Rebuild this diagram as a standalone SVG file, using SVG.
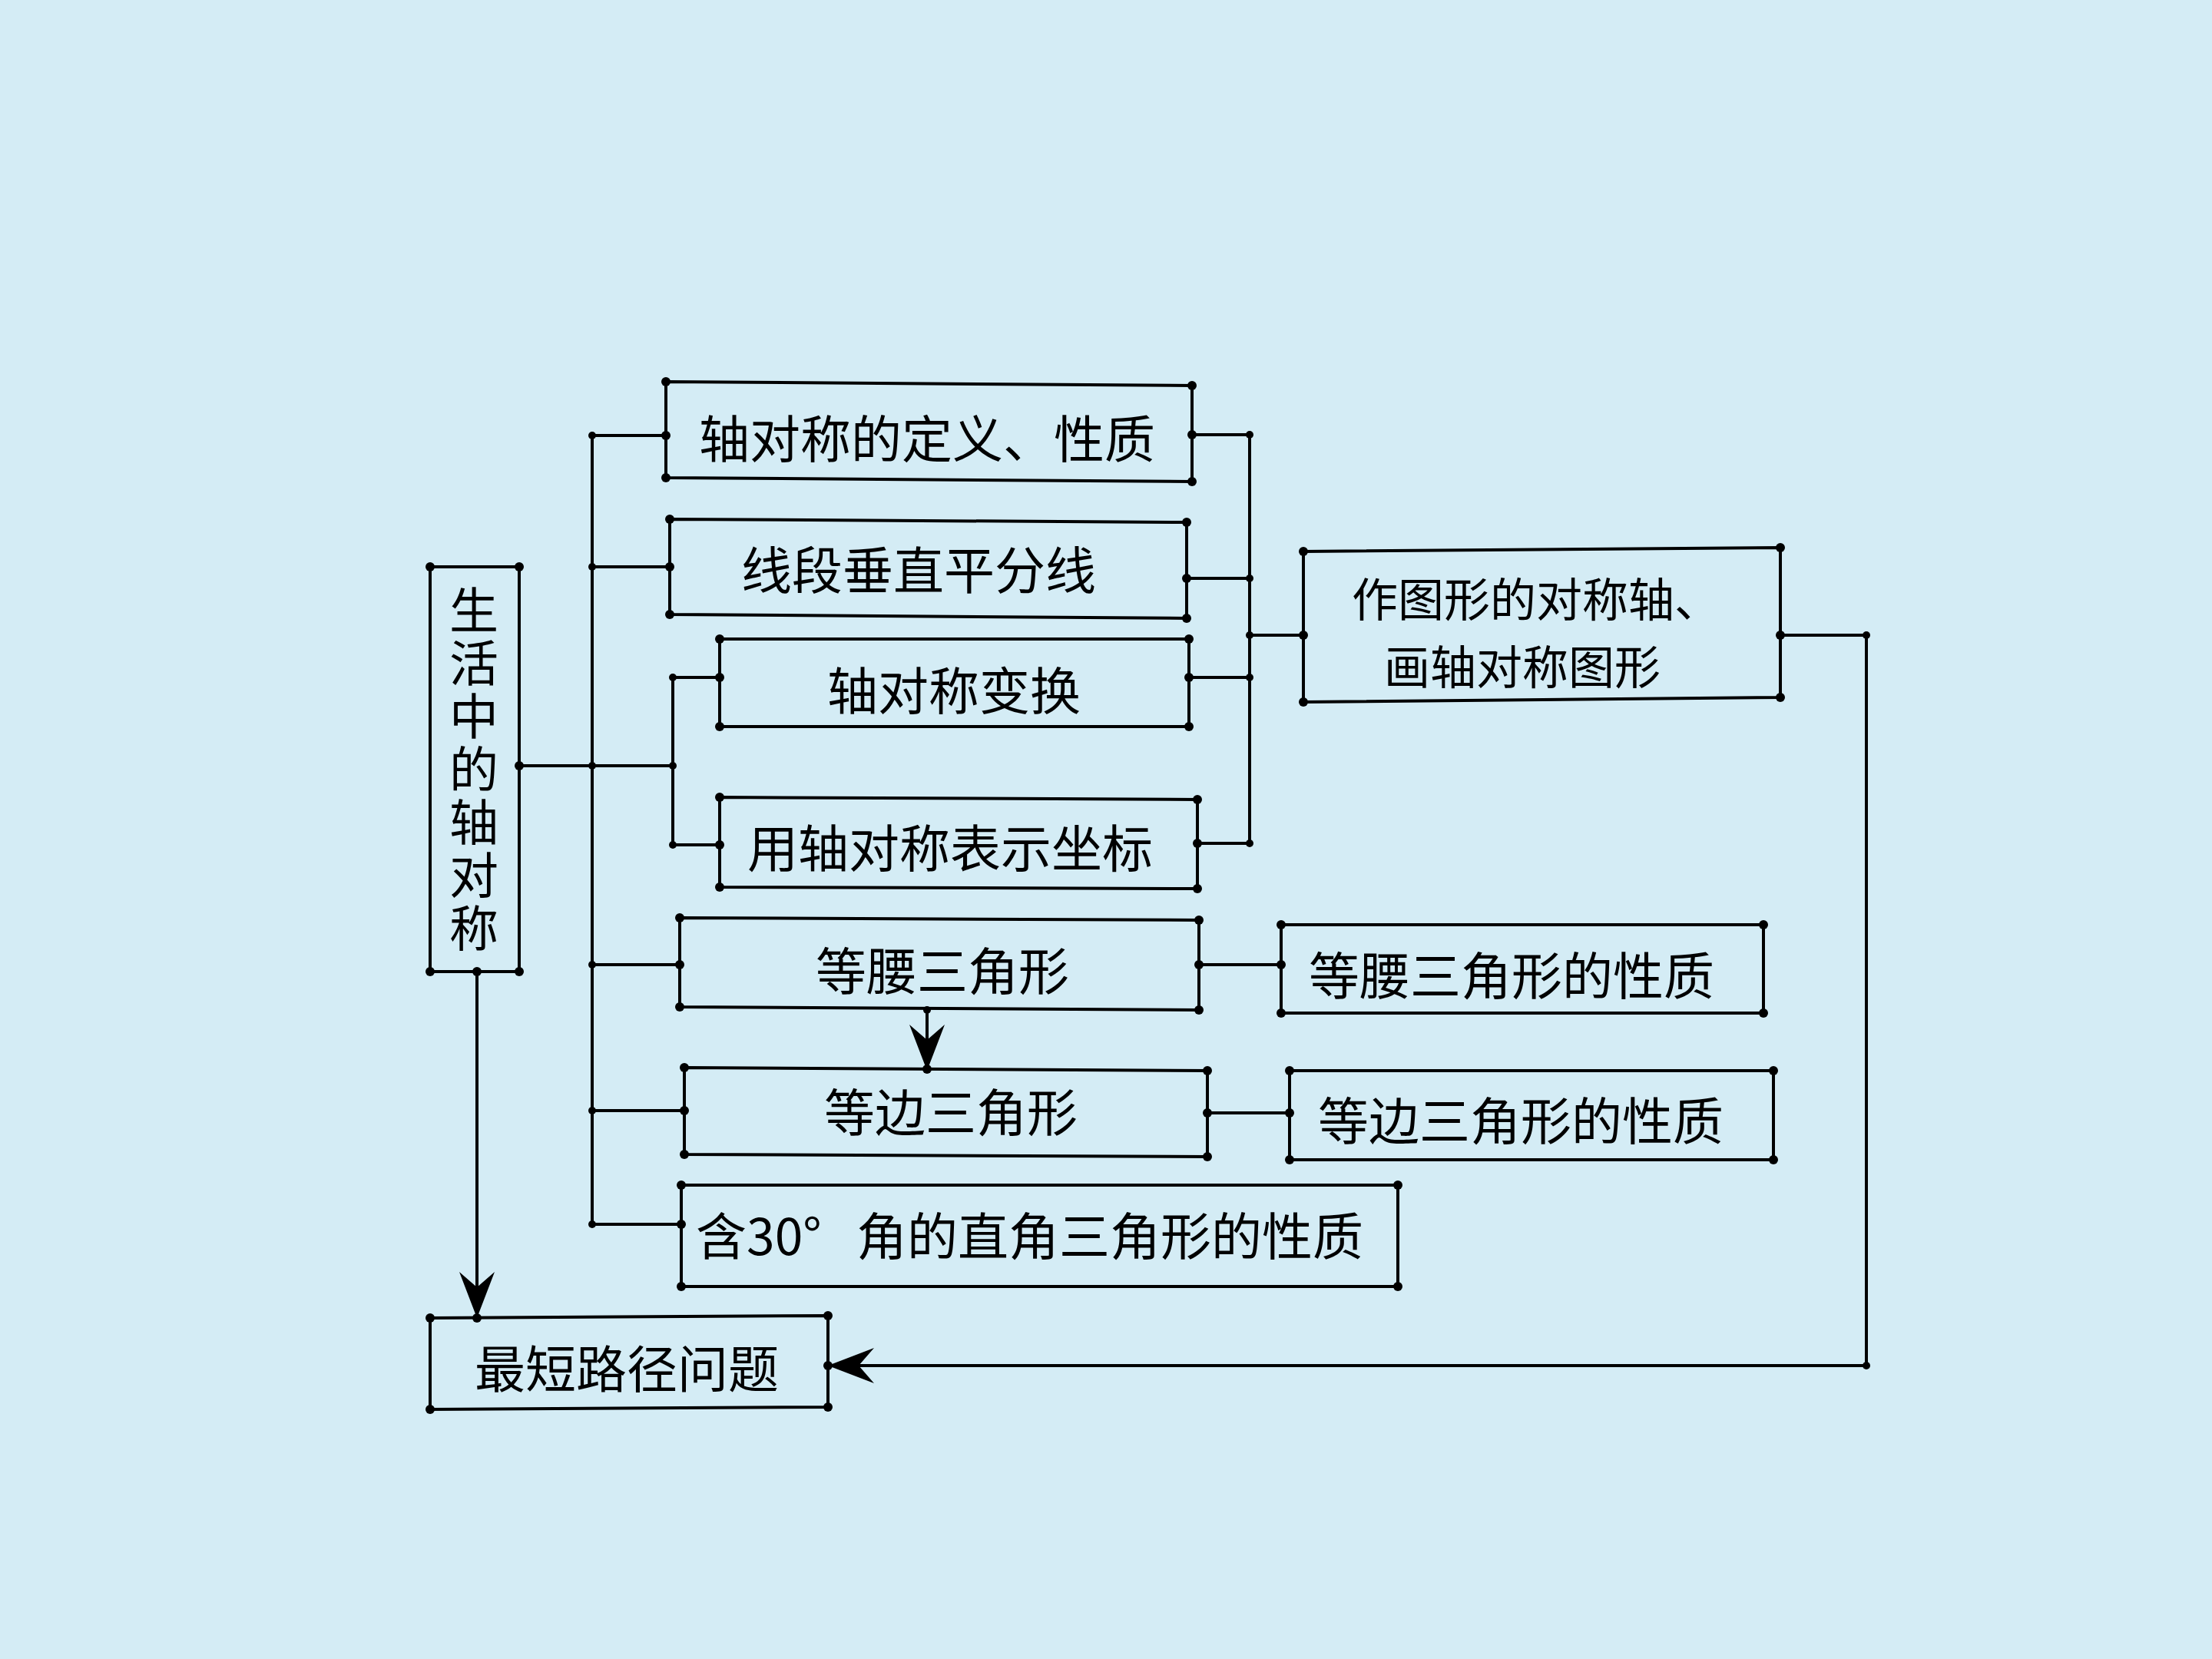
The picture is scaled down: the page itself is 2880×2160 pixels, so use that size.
<svg xmlns="http://www.w3.org/2000/svg" width="2880" height="2160" viewBox="0 0 2880 2160">
<style>
.box{fill:none;stroke:#000;stroke-width:4;stroke-linejoin:miter}
.ln{fill:none;stroke:#000;stroke-width:4}
.dot{fill:#000}
.t{font-family:"Noto Sans CJK SC","Liberation Serif",serif;font-size:66px;fill:#000;text-anchor:middle;dominant-baseline:central}
.t2{font-family:"Noto Sans CJK SC","Liberation Serif",serif;font-size:60px;fill:#000;text-anchor:middle;dominant-baseline:central}
.ts{font-family:"Noto Sans CJK SC","Liberation Serif",serif;font-size:66px;fill:#000;dominant-baseline:central}
.tv{font-family:"Noto Sans CJK SC","Liberation Serif",serif;font-size:64px;fill:#000;writing-mode:vertical-rl;letter-spacing:5px}
</style>
<defs>
<marker id="arr" viewBox="0 0 60 46" refX="60" refY="23" markerWidth="60" markerHeight="46" markerUnits="userSpaceOnUse" orient="auto">
<path d="M0,0 L60,23 L0,46 L20,23 Z" fill="#000"/>
</marker>
</defs>
<rect width="2880" height="2160" fill="#d4ecf5"/>

<g id="connectors">
<path class="ln" d="M771,567 V1594"/>
<path class="ln" d="M676,997 H876"/>
<path class="ln" d="M876,882 V1100"/>
<path class="ln" d="M876,882 H937 M876,1100 H937"/>
<path class="ln" d="M771,567 H867 M771,738 H872 M771,1256 H885 M771,1446 H891 M771,1594 H887"/>
<path class="ln" d="M1552,566 H1627 M1545,753 H1627 M1548,882 H1627 M1559,1098 H1627 M1627,566 V1098 M1627,827 H1697"/>
<path class="ln" d="M1561,1256 H1668 M1572,1449 H1679"/>
<path class="ln" d="M2318,827 H2430 V1778 H1078" marker-end="url(#arr)"/>
<path class="ln" d="M621,1265 V1716" marker-end="url(#arr)"/>
<path class="ln" d="M1207,1315 V1394" marker-end="url(#arr)"/>
<g class="dot">
<circle cx="771" cy="567" r="5"/><circle cx="771" cy="738" r="5"/><circle cx="771" cy="997" r="5"/><circle cx="771" cy="1256" r="5"/><circle cx="771" cy="1446" r="5"/><circle cx="771" cy="1594" r="5"/>
<circle cx="876" cy="997" r="5"/><circle cx="876" cy="882" r="5"/><circle cx="876" cy="1100" r="5"/>
<circle cx="1627" cy="566" r="5"/><circle cx="1627" cy="753" r="5"/><circle cx="1627" cy="882" r="5"/><circle cx="1627" cy="1098" r="5"/><circle cx="1627" cy="827" r="5"/>
<circle cx="2430" cy="827" r="5"/><circle cx="2430" cy="1778" r="5"/>
<circle cx="1207" cy="1315" r="5"/>
</g>
</g>

<g id="n0">
<path class="box" d="M560,738 H676 V1265 H560 Z"/>
<g class="dot"><circle cx="560" cy="738" r="6"/><circle cx="676" cy="738" r="6"/><circle cx="676" cy="1265" r="6"/><circle cx="560" cy="1265" r="6"/><circle cx="676" cy="997" r="6"/><circle cx="621" cy="1265" r="6"/></g>
<text class="tv" x="617" y="762">生活中的轴对称</text>
</g>

<g id="n1">
<path class="box" d="M867,497 L1552,502 V627 L867,622 Z"/>
<g class="dot"><circle cx="867" cy="497" r="6"/><circle cx="1552" cy="502" r="6"/><circle cx="1552" cy="627" r="6"/><circle cx="867" cy="622" r="6"/><circle cx="867" cy="567" r="6"/><circle cx="1552" cy="566" r="6"/></g>
<text class="t" x="1207" y="567">轴对称的定义、性质</text>
</g>

<g id="n2">
<path class="box" d="M872,676 L1545,680 V805 L872,800 Z"/>
<g class="dot"><circle cx="872" cy="676" r="6"/><circle cx="1545" cy="680" r="6"/><circle cx="1545" cy="805" r="6"/><circle cx="872" cy="800" r="6"/><circle cx="872" cy="738" r="6"/><circle cx="1545" cy="753" r="6"/></g>
<text class="t" x="1196" y="738">线段垂直平分线</text>
</g>

<g id="n3">
<path class="box" d="M937,832 H1548 V946 H937 Z"/>
<g class="dot"><circle cx="937" cy="832" r="6"/><circle cx="1548" cy="832" r="6"/><circle cx="1548" cy="946" r="6"/><circle cx="937" cy="946" r="6"/><circle cx="937" cy="882" r="6"/><circle cx="1548" cy="882" r="6"/></g>
<text class="t" x="1242" y="895">轴对称变换</text>
</g>

<g id="n4">
<path class="box" d="M937,1038 L1559,1041 V1157 L937,1155 Z"/>
<g class="dot"><circle cx="937" cy="1038" r="6"/><circle cx="1559" cy="1041" r="6"/><circle cx="1559" cy="1157" r="6"/><circle cx="937" cy="1155" r="6"/><circle cx="937" cy="1100" r="6"/><circle cx="1559" cy="1098" r="6"/></g>
<text class="t" x="1237" y="1100">用轴对称表示坐标</text>
</g>

<g id="n5">
<path class="box" d="M885,1195 L1561,1198 V1315 L885,1311 Z"/>
<g class="dot"><circle cx="885" cy="1195" r="6"/><circle cx="1561" cy="1198" r="6"/><circle cx="1561" cy="1315" r="6"/><circle cx="885" cy="1311" r="6"/><circle cx="885" cy="1256" r="6"/><circle cx="1561" cy="1256" r="6"/></g>
<text class="t" x="1227" y="1260">等腰三角形</text>
</g>

<g id="n6">
<path class="box" d="M891,1390 L1572,1394 V1506 L891,1503 Z"/>
<g class="dot"><circle cx="891" cy="1390" r="6"/><circle cx="1572" cy="1394" r="6"/><circle cx="1572" cy="1506" r="6"/><circle cx="891" cy="1503" r="6"/><circle cx="891" cy="1446" r="6"/><circle cx="1572" cy="1449" r="6"/><circle cx="1207" cy="1392" r="6"/></g>
<text class="t" x="1238" y="1444">等边三角形</text>
</g>

<g id="n7">
<path class="box" d="M887,1543 H1820 V1675 H887 Z"/>
<g class="dot"><circle cx="887" cy="1543" r="6"/><circle cx="1820" cy="1543" r="6"/><circle cx="1820" cy="1675" r="6"/><circle cx="887" cy="1675" r="6"/><circle cx="887" cy="1594" r="6"/></g>
<text class="ts" x="906" y="1605">含30°<tspan x="1115">角的直角三角形的性质</tspan></text>
</g>

<g id="n8">
<path class="box" d="M1668,1204 H2296 V1319 H1668 Z"/>
<g class="dot"><circle cx="1668" cy="1204" r="6"/><circle cx="2296" cy="1204" r="6"/><circle cx="2296" cy="1319" r="6"/><circle cx="1668" cy="1319" r="6"/><circle cx="1668" cy="1256" r="6"/></g>
<text class="t" x="1968" y="1266">等腰三角形的性质</text>
</g>

<g id="n9">
<path class="box" d="M1679,1394 H2309 V1510 H1679 Z"/>
<g class="dot"><circle cx="1679" cy="1394" r="6"/><circle cx="2309" cy="1394" r="6"/><circle cx="2309" cy="1510" r="6"/><circle cx="1679" cy="1510" r="6"/><circle cx="1679" cy="1449" r="6"/></g>
<text class="t" x="1980" y="1455">等边三角形的性质</text>
</g>

<g id="n10">
<path class="box" d="M1697,718 L2318,713 V908 L1697,914 Z"/>
<g class="dot"><circle cx="1697" cy="718" r="6"/><circle cx="2318" cy="713" r="6"/><circle cx="2318" cy="908" r="6"/><circle cx="1697" cy="914" r="6"/><circle cx="1697" cy="827" r="6"/><circle cx="2318" cy="827" r="6"/></g>
<text class="t2"><tspan x="2000" y="776">作图形的对称轴、</tspan><tspan x="1982" y="864">画轴对称图形</tspan></text>
</g>

<g id="n11">
<path class="box" d="M560,1716 L1078,1713 V1832 L560,1835 Z"/>
<g class="dot"><circle cx="560" cy="1716" r="6"/><circle cx="1078" cy="1713" r="6"/><circle cx="1078" cy="1832" r="6"/><circle cx="560" cy="1835" r="6"/><circle cx="1078" cy="1778" r="6"/><circle cx="621" cy="1716" r="6"/></g>
<text class="t" x="816" y="1778">最短路径问题</text>
</g>
</svg>
